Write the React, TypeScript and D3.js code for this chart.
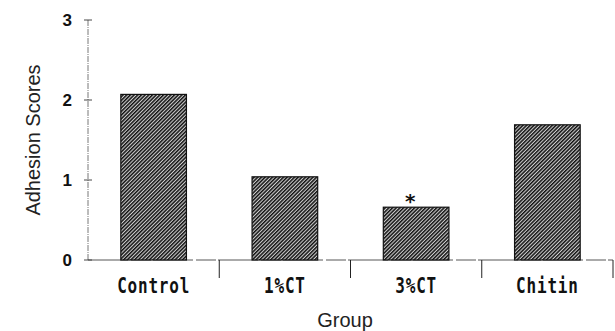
import React from "react";
import { scaleBand, scaleLinear } from "d3";

const groups = ["Control", "1%CT", "3%CT", "Chitin"];
const scores = [2.07, 1.04, 0.66, 1.69];
const significant = [false, false, true, false];
const yTicks = [0, 1, 2, 3];

const W = 615;
const H = 331;
const margin = { left: 88, right: 2, top: 20, bottom: 71 };

export default function App() {
  const x = scaleBand<string>()
    .domain(groups)
    .range([margin.left, W - margin.right])
    .paddingInner(0.5)
    .paddingOuter(0.25);
  const y = scaleLinear().domain([0, 3]).range([H - margin.bottom, margin.top]);
  const y0 = y(0);
  const step = x.step();
  // dividers between groups
  const dividers = groups.map((g) => (x(g) as number) - x.bandwidth() * 0.5 + step);

  return (
    <svg width={W} height={H} style={{ position: "absolute", left: 0, top: 0 }}>
      <defs>
        <pattern id="hatch" patternUnits="userSpaceOnUse" width="2.6" height="2.6" patternTransform="rotate(45)">
          <rect width="2.6" height="2.6" fill="#cfcfcf" />
          <rect width="1.5" height="2.6" fill="#111" />
        </pattern>
      </defs>
      <rect width={W} height={H} fill="#fff" />

      {/* y axis */}
      <line x1={margin.left} x2={margin.left} y1={y(3)} y2={y0} stroke="#555" strokeWidth={0.8} strokeDasharray="6 1 1 1" />
      {yTicks.map((t) => (
        <g key={t}>
          <line x1={margin.left - 4} x2={margin.left + 4} y1={y(t)} y2={y(t)} stroke="#333" strokeWidth={0.9} />
          <text x={margin.left - 16} y={y(t)} dy="0.36em" textAnchor="end" fontFamily="Arial, Liberation Sans, sans-serif" fontWeight="bold" fontSize={17} fill="#111">
            {t}
          </text>
        </g>
      ))}

      {/* x axis */}
      <line x1={margin.left} x2={W - margin.right} y1={y0} y2={y0} stroke="#444" strokeWidth={0.9} strokeDasharray="40 3 20 2" />
      {dividers.map((d, i) => (
        <line key={i} x1={d} x2={d} y1={y0} y2={y0 + 18} stroke="#222" strokeWidth={1} />
      ))}

      {/* bars */}
      {groups.map((g, i) => (
        <rect
          key={g}
          x={x(g)}
          y={y(scores[i])}
          width={x.bandwidth()}
          height={y0 - y(scores[i])}
          fill="url(#hatch)"
          stroke="#111"
          strokeWidth={1.2}
        />
      ))}
      {groups.map((g, i) =>
        significant[i] ? (
          <text key={g} x={(x(g) as number) + x.bandwidth() * 0.41} y={y(scores[i]) + 1} textAnchor="middle" fontFamily="DejaVu Sans, sans-serif" fontWeight="bold" fontSize={20} fill="#111">
            *
          </text>
        ) : null
      )}

      {/* category labels */}
      {groups.map((g) => (
        <text
          key={g}
          transform={`translate(${(x(g) as number) + x.bandwidth() / 2}, ${y0 + 33}) scale(1, 1.3)`}
          textAnchor="middle"
          fontFamily="DejaVu Sans Mono, monospace"
          fontWeight="bold"
          fontSize={16}
          letterSpacing={0.8}
          fill="#111"
        >
          {g}
        </text>
      ))}

      {/* axis titles */}
      <text x={345} y={327} textAnchor="middle" fontFamily="Arial, Liberation Sans, sans-serif" fontSize={20} fill="#222">
        Group
      </text>
      <text transform={`translate(40, ${(y(3) + y0) / 2}) rotate(-90)`} textAnchor="middle" fontFamily="Arial, Liberation Sans, sans-serif" fontSize={20} fill="#222">
        Adhesion Scores
      </text>
    </svg>
  );
}
